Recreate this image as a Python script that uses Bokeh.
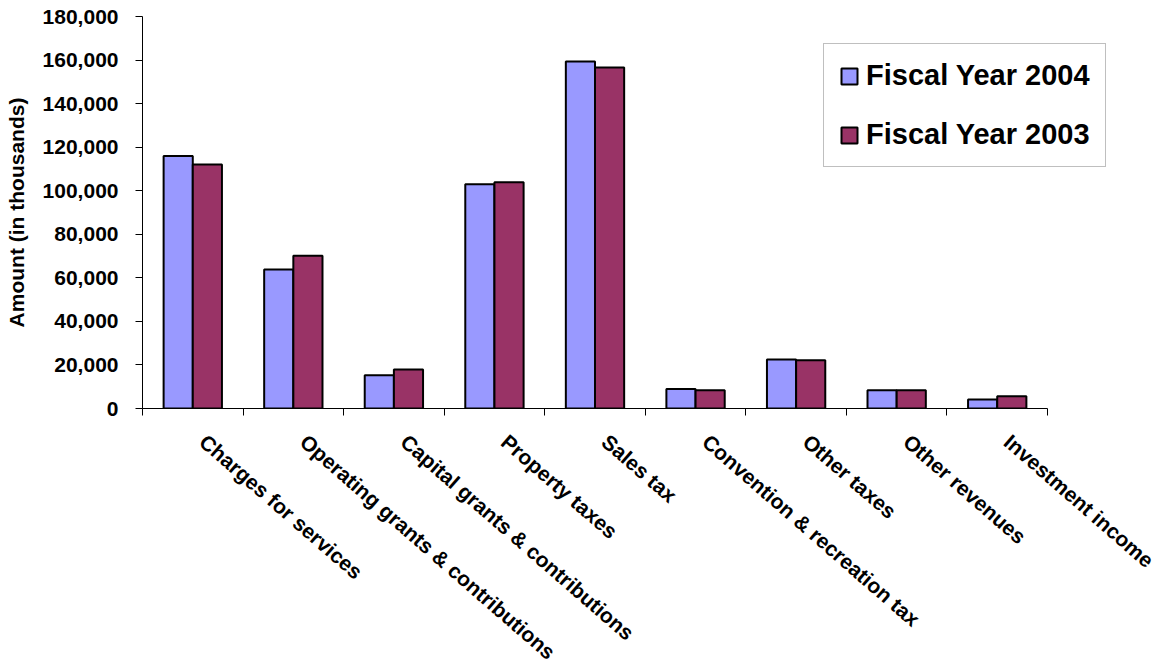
import math
import numpy as np
from bokeh.plotting import figure
from bokeh.models import Range1d, FixedTicker, NumeralTickFormatter, Legend, LegendItem
from bokeh.embed import file_html
from bokeh.resources import INLINE

categories = [
    "Charges for services",
    "Operating grants & contributions",
    "Capital grants & contributions",
    "Property taxes",
    "Sales tax",
    "Convention & recreation tax",
    "Other taxes",
    "Other revenues",
    "Investment income",
]
fy2004 = [116000, 63800, 15300, 103000, 159300, 8900, 22500, 8400, 4100]
fy2003 = [112000, 70100, 17900, 103900, 156600, 8400, 22200, 8400, 5600]
y_ticks = [0, 20000, 40000, 60000, 80000, 100000, 120000, 140000, 160000, 180000]

FONT = "Liberation Sans"
COL_2004 = "#9999FF"
COL_2003 = "#993366"
BAR_W = 0.29

n = len(categories)
centers = np.arange(n) + 0.5

AXIS_PX = 905      # pixel length of the category axis
FRAME_W = 980      # frame extends to the right so the legend is not clipped
LABEL_SHIFT = 10 * n / AXIS_PX   # labels start ~10px right of the category centre

p = figure(
    frame_width=FRAME_W, frame_height=392,
    min_border_left=142, min_border_right=1162 - 142 - FRAME_W, min_border_top=16, min_border_bottom=259,
    x_range=Range1d(0, n * FRAME_W / AXIS_PX), y_range=Range1d(0, 180000),
    output_backend="svg", toolbar_location=None,
)
p.outline_line_color = None
p.grid.visible = False
p.background_fill_color = "white"
p.border_fill_color = "white"

r1 = p.vbar(x=centers - BAR_W / 2, top=fy2004, width=BAR_W,
            fill_color=COL_2004, line_color="black", line_width=2)
r2 = p.vbar(x=centers + BAR_W / 2, top=fy2003, width=BAR_W,
            fill_color=COL_2003, line_color="black", line_width=2)

# x axis
label_pos = [float(c + LABEL_SHIFT) for c in centers]
xa = p.xaxis[0]
xa.bounds = (0, n)
xa.ticker = FixedTicker(ticks=label_pos, minor_ticks=list(range(n + 1)))
xa.major_label_overrides = {pos: cat for pos, cat in zip(label_pos, categories)}
xa.major_label_orientation = -math.radians(41)
xa.major_tick_out = 0
xa.major_tick_in = 0
xa.minor_tick_out = 7
xa.minor_tick_in = 0
xa.minor_tick_line_color = "black"
xa.axis_line_color = "black"
xa.major_label_text_font = FONT
xa.major_label_text_font_style = "bold"
xa.major_label_text_font_size = "21px"
xa.major_label_text_color = "black"
xa.major_label_standoff = 23

# y axis
ya = p.yaxis[0]
ya.ticker = FixedTicker(ticks=y_ticks)
ya.formatter = NumeralTickFormatter(format="0,0")
ya.major_tick_out = 7
ya.major_tick_in = 0
ya.minor_tick_out = 0
ya.minor_tick_in = 0
ya.major_tick_line_color = "black"
ya.axis_line_color = "black"
ya.major_label_text_font = FONT
ya.major_label_text_font_style = "bold"
ya.major_label_text_font_size = "21px"
ya.major_label_text_color = "black"
ya.major_label_standoff = 17
ya.axis_label = "Amount (in thousands)"
ya.axis_label_text_font = FONT
ya.axis_label_text_font_style = "bold"
ya.axis_label_text_font_size = "21px"
ya.axis_label_text_color = "black"
ya.axis_label_standoff = 12

legend = Legend(
    items=[LegendItem(label="Fiscal Year 2004", renderers=[r1]),
           LegendItem(label="Fiscal Year 2003", renderers=[r2])],
    location=(681, 241),
    orientation="vertical",
    glyph_width=20, glyph_height=20,
    label_text_font=FONT, label_text_font_style="bold", label_text_font_size="29px",
    label_text_color="black",
    label_standoff=7,
    spacing=26,
    padding=15,
    margin=0,
    border_line_color="#808080", border_line_width=1,
    background_fill_color="white", background_fill_alpha=1.0,
)
p.add_layout(legend, "center")

open("out.html", "w").write(file_html(p, INLINE))
